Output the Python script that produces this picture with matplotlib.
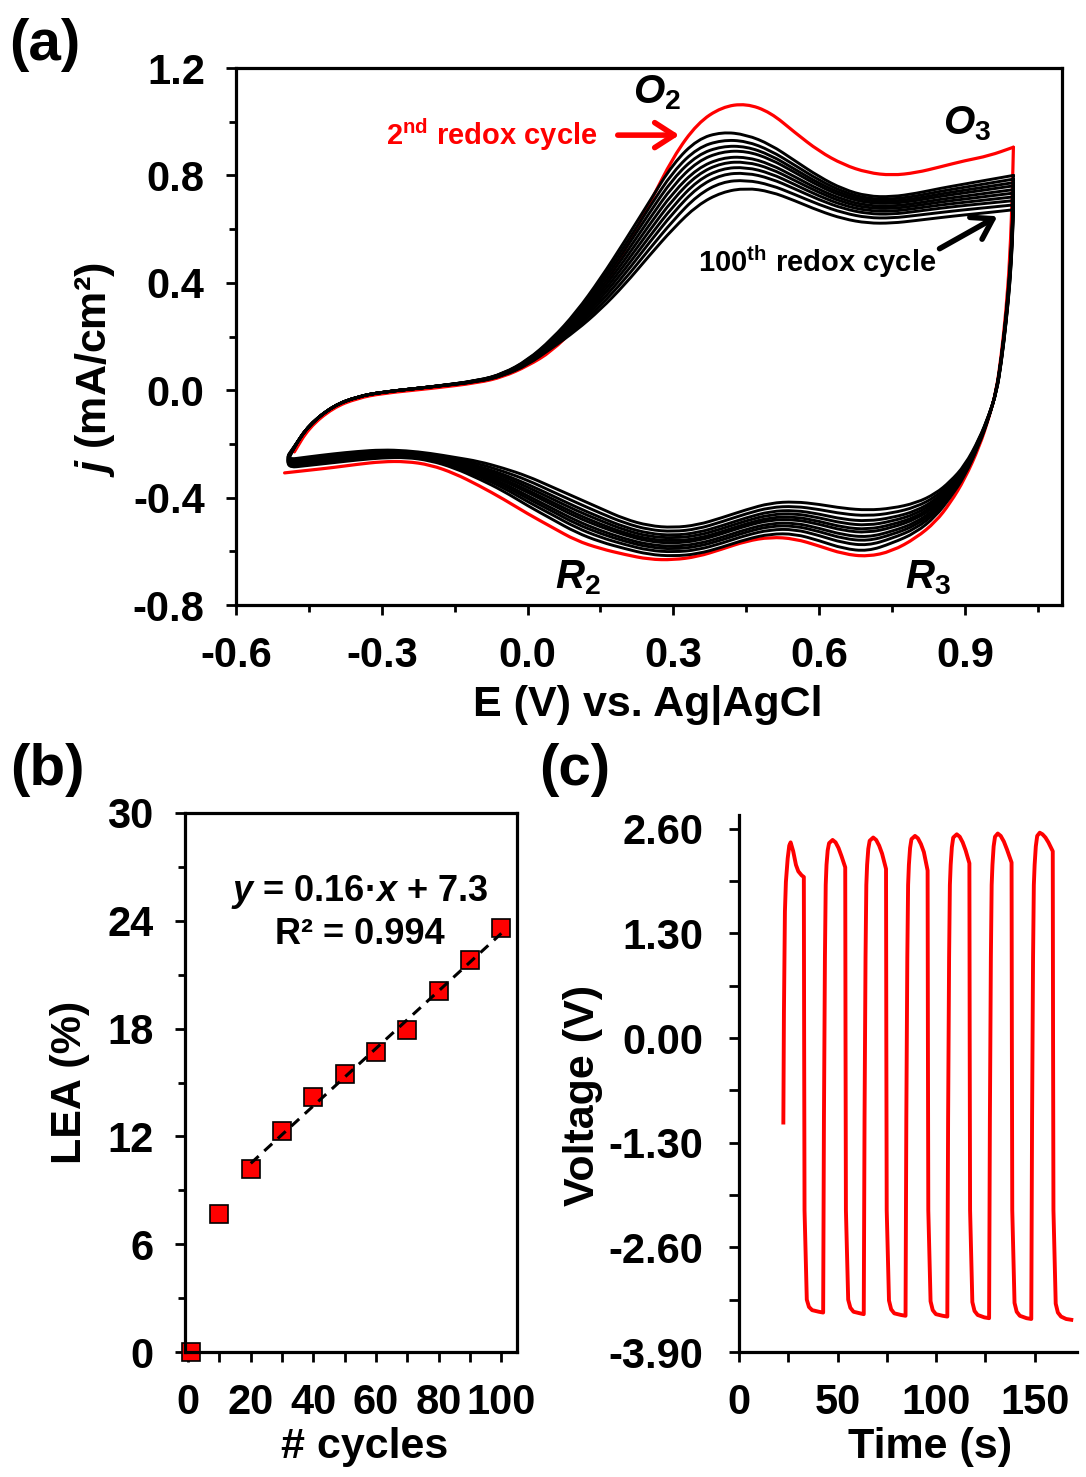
import numpy as np
import matplotlib
matplotlib.use("Agg")
import matplotlib.pyplot as plt
from matplotlib.path import Path
from matplotlib.patches import PathPatch
from matplotlib.ticker import MultipleLocator

plt.rcParams['font.family'] = ['Liberation Sans', 'DejaVu Sans']
plt.rcParams['font.weight'] = 'bold'
plt.rcParams['mathtext.fontset'] = 'custom'
plt.rcParams['mathtext.rm'] = 'Liberation Sans:bold'
plt.rcParams['mathtext.it'] = 'Liberation Sans:italic:bold'
plt.rcParams['mathtext.bf'] = 'Liberation Sans:bold'

###############################################################################
# (a) cyclic voltammograms, 2nd cycle (red) and every 10th cycle (black)

# anodic sweep potentials (V vs Ag|AgCl)
E_ox = [-0.48, -0.45, -0.40, -0.35, -0.30, -0.20, -0.10, -0.05, 0.00, 0.05,
        0.10, 0.15, 0.20, 0.25, 0.30, 0.35, 0.40, 0.45, 0.50, 0.55,
        0.60, 0.65, 0.70, 0.75, 0.80, 0.85, 0.90, 0.95, 1.00]
# cathodic sweep potentials
E_rd = [1.00, 0.998, 0.993, 0.985, 0.975, 0.965, 0.95, 0.93, 0.90, 0.87,
        0.84, 0.80, 0.75, 0.70, 0.65, 0.60, 0.55, 0.50, 0.45, 0.40,
        0.35, 0.30, 0.25, 0.20, 0.15, 0.10, 0.05, 0.00, -0.05, -0.10,
        -0.15, -0.20, -0.25, -0.30, -0.35, -0.40, -0.45, -0.50]

# 2nd cycle current density (mA/cm2)
j_ox_2nd = [-0.23, -0.14, -0.065, -0.03, -0.012, 0.006, 0.028, 0.05, 0.09, 0.145,
            0.235, 0.36, 0.52, 0.69, 0.87, 0.995, 1.055, 1.068, 1.035, 0.96,
            0.89, 0.84, 0.81, 0.80, 0.81, 0.832, 0.855, 0.873, 0.905]
j_rd_2nd = [0.905, 0.75, 0.50, 0.30, 0.13, 0.0, -0.10, -0.21, -0.33, -0.42,
            -0.49, -0.55, -0.60, -0.62, -0.61, -0.58, -0.553, -0.547, -0.562, -0.592,
            -0.62, -0.632, -0.63, -0.612, -0.59, -0.56, -0.51, -0.46, -0.405, -0.355,
            -0.31, -0.278, -0.265, -0.266, -0.276, -0.288, -0.298, -0.308]

cycles_cv = [10, 20, 30, 40, 50, 60, 70, 80, 90, 100]

# one row per potential of E_ox, one column per entry of cycles_cv
j_ox_cycles = [
    [-0.21] * 10,
    [-0.13] * 10,
    [-0.058] * 10,
    [-0.024] * 10,
    [-0.007] * 10,
    [0.012] * 10,
    [0.036, 0.036, 0.035, 0.035, 0.034, 0.034, 0.033, 0.033, 0.032, 0.032],
    [0.062, 0.061, 0.060, 0.060, 0.059, 0.058, 0.057, 0.056, 0.055, 0.054],
    [0.112, 0.110, 0.108, 0.106, 0.104, 0.102, 0.100, 0.098, 0.096, 0.094],
    [0.190, 0.186, 0.182, 0.179, 0.175, 0.172, 0.168, 0.165, 0.161, 0.157],
    [0.290, 0.282, 0.274, 0.267, 0.260, 0.252, 0.245, 0.238, 0.230, 0.222],
    [0.415, 0.402, 0.390, 0.377, 0.364, 0.352, 0.340, 0.327, 0.314, 0.300],
    [0.555, 0.538, 0.521, 0.503, 0.485, 0.467, 0.449, 0.431, 0.412, 0.393],
    [0.700, 0.679, 0.658, 0.636, 0.614, 0.592, 0.570, 0.548, 0.524, 0.500],
    [0.845, 0.816, 0.790, 0.764, 0.738, 0.713, 0.687, 0.662, 0.633, 0.603],
    [0.935, 0.903, 0.877, 0.853, 0.827, 0.805, 0.782, 0.757, 0.727, 0.690],
    [0.962, 0.932, 0.909, 0.889, 0.866, 0.847, 0.826, 0.804, 0.776, 0.738],
    [0.952, 0.928, 0.908, 0.891, 0.869, 0.851, 0.831, 0.810, 0.783, 0.753],
    [0.915, 0.893, 0.876, 0.861, 0.842, 0.826, 0.808, 0.789, 0.765, 0.740],
    [0.855, 0.838, 0.823, 0.811, 0.795, 0.781, 0.766, 0.750, 0.729, 0.706],
    [0.795, 0.782, 0.770, 0.760, 0.747, 0.736, 0.723, 0.709, 0.691, 0.668],
    [0.748, 0.738, 0.729, 0.720, 0.709, 0.699, 0.688, 0.676, 0.660, 0.638],
    [0.722, 0.713, 0.705, 0.697, 0.687, 0.678, 0.668, 0.657, 0.642, 0.622],
    [0.720, 0.711, 0.703, 0.695, 0.685, 0.676, 0.666, 0.655, 0.641, 0.622],
    [0.733, 0.723, 0.714, 0.706, 0.696, 0.687, 0.677, 0.666, 0.651, 0.632],
    [0.752, 0.741, 0.731, 0.722, 0.711, 0.701, 0.690, 0.678, 0.662, 0.643],
    [0.768, 0.756, 0.745, 0.735, 0.723, 0.712, 0.700, 0.688, 0.672, 0.653],
    [0.784, 0.771, 0.759, 0.748, 0.735, 0.723, 0.710, 0.697, 0.681, 0.662],
    [0.800, 0.786, 0.773, 0.761, 0.747, 0.734, 0.720, 0.706, 0.690, 0.672],
]

# one row per potential of E_rd
j_rd_cycles = [
    [0.800, 0.786, 0.773, 0.761, 0.747, 0.734, 0.720, 0.706, 0.690, 0.672],
    [0.620, 0.610, 0.600, 0.595, 0.590, 0.585, 0.580, 0.570, 0.560, 0.550],
    [0.450, 0.445, 0.440, 0.435, 0.430, 0.425, 0.420, 0.415, 0.405, 0.400],
    [0.280, 0.276, 0.273, 0.270, 0.267, 0.264, 0.260, 0.257, 0.253, 0.250],
    [0.120, 0.117, 0.115, 0.113, 0.110, 0.109, 0.107, 0.105, 0.102, 0.100],
    [0.000, -0.001, -0.003, -0.003, -0.005, -0.005, -0.006, -0.007, -0.009, -0.010],
    [-0.100, -0.099, -0.098, -0.097, -0.096, -0.095, -0.094, -0.093, -0.091, -0.090],
    [-0.200, -0.197, -0.195, -0.193, -0.191, -0.189, -0.187, -0.185, -0.183, -0.180],
    [-0.320, -0.314, -0.310, -0.306, -0.302, -0.299, -0.295, -0.291, -0.286, -0.280],
    [-0.400, -0.392, -0.385, -0.380, -0.373, -0.368, -0.362, -0.356, -0.348, -0.340],
    [-0.470, -0.458, -0.449, -0.441, -0.432, -0.425, -0.416, -0.408, -0.397, -0.385],
    [-0.530, -0.515, -0.503, -0.493, -0.480, -0.472, -0.461, -0.450, -0.435, -0.420],
    [-0.570, -0.552, -0.538, -0.526, -0.512, -0.501, -0.488, -0.475, -0.458, -0.440],
    [-0.600, -0.579, -0.562, -0.548, -0.531, -0.519, -0.504, -0.488, -0.468, -0.447],
    [-0.590, -0.569, -0.553, -0.539, -0.523, -0.511, -0.496, -0.481, -0.461, -0.440],
    [-0.560, -0.541, -0.526, -0.514, -0.499, -0.488, -0.475, -0.461, -0.444, -0.425],
    [-0.535, -0.518, -0.505, -0.494, -0.481, -0.471, -0.459, -0.447, -0.432, -0.415],
    [-0.535, -0.519, -0.506, -0.496, -0.483, -0.474, -0.463, -0.451, -0.436, -0.420],
    [-0.555, -0.540, -0.528, -0.518, -0.505, -0.497, -0.486, -0.475, -0.460, -0.445],
    [-0.585, -0.570, -0.558, -0.548, -0.535, -0.527, -0.516, -0.505, -0.490, -0.475],
    [-0.610, -0.595, -0.583, -0.573, -0.561, -0.553, -0.542, -0.531, -0.517, -0.502],
    [-0.618, -0.603, -0.592, -0.582, -0.570, -0.562, -0.551, -0.541, -0.527, -0.512],
    [-0.612, -0.597, -0.585, -0.576, -0.564, -0.555, -0.545, -0.534, -0.520, -0.505],
    [-0.590, -0.575, -0.563, -0.553, -0.540, -0.532, -0.521, -0.510, -0.495, -0.480],
    [-0.565, -0.548, -0.534, -0.523, -0.509, -0.499, -0.486, -0.474, -0.458, -0.440],
    [-0.530, -0.512, -0.498, -0.486, -0.472, -0.461, -0.448, -0.435, -0.418, -0.400],
    [-0.480, -0.463, -0.450, -0.439, -0.426, -0.416, -0.404, -0.392, -0.377, -0.360],
    [-0.430, -0.415, -0.403, -0.393, -0.380, -0.372, -0.361, -0.350, -0.335, -0.320],
    [-0.375, -0.363, -0.354, -0.346, -0.337, -0.330, -0.321, -0.313, -0.302, -0.290],
    [-0.330, -0.321, -0.314, -0.308, -0.301, -0.296, -0.289, -0.283, -0.274, -0.265],
    [-0.290, -0.284, -0.280, -0.276, -0.272, -0.269, -0.265, -0.261, -0.256, -0.250],
    [-0.262, -0.258, -0.255, -0.253, -0.250, -0.248, -0.245, -0.242, -0.239, -0.235],
    [-0.250, -0.246, -0.244, -0.242, -0.239, -0.237, -0.234, -0.232, -0.228, -0.225],
    [-0.252, -0.248, -0.245, -0.242, -0.239, -0.236, -0.233, -0.230, -0.226, -0.222],
    [-0.260, -0.256, -0.252, -0.249, -0.246, -0.243, -0.240, -0.237, -0.232, -0.228],
    [-0.270, -0.265, -0.262, -0.259, -0.255, -0.252, -0.249, -0.246, -0.241, -0.237],
    [-0.280, -0.276, -0.272, -0.269, -0.266, -0.263, -0.260, -0.257, -0.252, -0.248],
    [-0.290, -0.286, -0.283, -0.280, -0.277, -0.275, -0.271, -0.268, -0.264, -0.260],
]

###############################################################################
# (b) LEA vs number of redox cycles

n_cycles = [1, 10, 20, 30, 40, 50, 60, 70, 80, 90, 100]
lea = [0.0, 7.7, 10.2, 12.3, 14.2, 15.5, 16.7, 17.9, 20.1, 21.8, 23.6]
fit_slope, fit_icpt, fit_r2 = 0.16, 7.3, 0.994
fit_range = [20, 100]

###############################################################################
# (c) voltage response in time, one row per pulse

time_s = [
    [22.5, 22.8, 23.3, 23.8, 24.7, 25.5, 26.2, 27.5, 28.9, 30.1, 31.8, 32.9,
     33.05, 33.25, 34.4, 35.5, 37.1, 40.5],
    [42.7, 43.1, 43.6, 44.0, 44.4, 45.0, 45.7, 47.5, 49.0, 50.5, 52.0, 53.9,
     54.05, 54.25, 55.4, 56.5, 58.1, 61.5],
    [63.3, 63.7, 64.2, 64.6, 65.0, 65.6, 66.3, 68.1, 69.6, 71.1, 72.6, 74.6,
     74.75, 74.95, 76.1, 77.2, 78.8, 82.2],
    [84.5, 84.9, 85.4, 85.8, 86.2, 86.8, 87.5, 89.3, 90.8, 92.3, 93.8, 95.7,
     95.85, 96.05, 97.2, 98.3, 99.9, 103.3],
    [105.7, 106.1, 106.6, 107.0, 107.4, 108.0, 108.7, 110.5, 112.0, 113.5, 115.0, 116.9,
     117.05, 117.25, 118.4, 119.5, 121.1, 124.5],
    [126.9, 127.3, 127.8, 128.2, 128.6, 129.2, 129.9, 131.3, 132.8, 134.4, 136.0, 138.3,
     138.45, 138.65, 139.8, 140.9, 142.5, 145.9],
    [148.3, 148.7, 149.2, 149.6, 150.0, 150.6, 151.3, 152.6, 154.0, 155.5, 157.0, 159.2,
     159.35, 159.55, 160.7, 161.8, 163.4, 166.0, 168.6],
]
volt = [
    [-1.05, 0.32, 1.57, 1.94, 2.23, 2.39, 2.43, 2.32, 2.15, 2.07, 2.02, 2.00,
     0.0, -2.14, -3.25, -3.34, -3.38, -3.40],
    [-3.41, -1.0, 1.0, 1.9, 2.15, 2.33, 2.42, 2.46, 2.43, 2.36, 2.26, 2.12,
     0.0, -2.14, -3.25, -3.35, -3.40, -3.42],
    [-3.43, -1.0, 1.0, 1.9, 2.15, 2.35, 2.45, 2.49, 2.46, 2.39, 2.29, 2.10,
     0.0, -2.14, -3.26, -3.37, -3.42, -3.44],
    [-3.45, -1.0, 1.0, 1.9, 2.15, 2.36, 2.47, 2.51, 2.48, 2.41, 2.31, 2.08,
     0.0, -2.14, -3.27, -3.38, -3.43, -3.45],
    [-3.46, -1.0, 1.0, 1.9, 2.15, 2.37, 2.49, 2.53, 2.50, 2.43, 2.33, 2.17,
     0.0, -2.14, -3.28, -3.39, -3.44, -3.47],
    [-3.48, -1.0, 1.0, 1.9, 2.15, 2.38, 2.50, 2.54, 2.51, 2.44, 2.34, 2.18,
     0.0, -2.14, -3.29, -3.40, -3.45, -3.48],
    [-3.49, -1.0, 1.0, 1.9, 2.15, 2.38, 2.51, 2.55, 2.53, 2.49, 2.43, 2.32,
     0.0, -2.14, -3.30, -3.41, -3.46, -3.49, -3.50],
]

###############################################################################
# Plot

TICK_FS = 30
LABEL_FS = 31


def smooth_curve(x, y):
    """Quadratic Bezier path through the midpoints, data points as control points."""
    pts = np.column_stack([x, y])
    mids = (pts[:-1] + pts[1:]) / 2
    verts = [pts[0], mids[0]]
    codes = [Path.MOVETO, Path.LINETO]
    for i in range(1, len(pts) - 1):
        verts += [pts[i], mids[i]]
        codes += [Path.CURVE3, Path.CURVE3]
    verts.append(pts[-1])
    codes.append(Path.LINETO)
    return Path(verts, codes)


def style_axis(ax):
    for sp in ax.spines.values():
        sp.set_linewidth(2.3)
    ax.tick_params(which='both', direction='out', width=2.0, labelsize=TICK_FS,
                   pad=15, top=False, right=False)
    ax.tick_params(which='major', length=7.5)
    ax.tick_params(which='minor', length=5)
    for lab in ax.get_xticklabels() + ax.get_yticklabels():
        lab.set_fontweight('bold')


fig = plt.figure(figsize=(10.86, 14.77), dpi=100)

# ---- (a)
ax1 = fig.add_axes([236 / 1086, 1 - 605 / 1477, 826 / 1086, 537 / 1477])
ox = np.array(j_ox_cycles).T
rd = np.array(j_rd_cycles).T
for xs, ys in [(E_ox, j_ox_2nd), (E_rd, j_rd_2nd)]:
    ax1.add_patch(PathPatch(smooth_curve(xs, ys), fill=False, edgecolor='red',
                            lw=2.3, zorder=2, capstyle='round'))
for k in range(len(cycles_cv)):
    ax1.add_patch(PathPatch(smooth_curve(E_rd + E_ox, list(rd[k]) + list(ox[k])),
                            fill=False, edgecolor='black', lw=2.1, zorder=3,
                            capstyle='round'))

ax1.set_xlim(-0.6, 1.1)
ax1.set_ylim(-0.8, 1.2)
ax1.xaxis.set_major_locator(MultipleLocator(0.3))
ax1.xaxis.set_minor_locator(MultipleLocator(0.15))
ax1.yaxis.set_major_locator(MultipleLocator(0.4))
ax1.yaxis.set_minor_locator(MultipleLocator(0.2))
ax1.xaxis.set_major_formatter(lambda v, p: f'{v:.1f}')
ax1.yaxis.set_major_formatter(lambda v, p: f'{v:.1f}')
style_axis(ax1)

ax1.text(0.266, 1.107, r'$O_{\mathit{2}}$', fontsize=29, ha='center', va='center')
ax1.text(0.904, 0.991, r'$O_{\mathit{3}}$', fontsize=29, ha='center', va='center')
ax1.text(0.104, -0.70, r'$R_{\mathit{2}}$', fontsize=29, ha='center', va='center')
ax1.text(0.824, -0.70, r'$R_{\mathit{3}}$', fontsize=29, ha='center', va='center')

ax1.text(0.145, 0.95, r'2$^{\mathrm{nd}}$ redox cycle', color='red', fontsize=21,
         ha='right', va='center')
ax1.annotate('', xy=(0.318, 0.95), xytext=(0.18, 0.95),
             arrowprops=dict(arrowstyle='->,head_length=0.7,head_width=0.45',
                             color='red', lw=4, mutation_scale=20))
ax1.text(0.596, 0.478, r'100$^{\mathrm{th}}$ redox cycle', color='black', fontsize=21,
         ha='center', va='center')
ax1.annotate('', xy=(0.972, 0.653), xytext=(0.843, 0.522),
             arrowprops=dict(arrowstyle='->,head_length=0.7,head_width=0.45',
                             color='black', lw=4, mutation_scale=20))

fig.text(648 / 1086, 1 - 705 / 1477, 'E (V) vs. Ag|AgCl', fontsize=LABEL_FS,
         ha='center', va='center')
fig.text(95 / 1086, 1 - 370 / 1477, r'$j$ (mA/cm²)', fontsize=LABEL_FS,
         ha='center', va='center', rotation=90)
fig.text(45 / 1086, 1 - 45 / 1477, '(a)', fontsize=42, ha='center', va='center')

# ---- (b)
ax2 = fig.add_axes([185 / 1086, 1 - 1352 / 1477, 332 / 1086, 539 / 1477])
fx = np.array(fit_range)
ax2.plot(fx, fit_slope * fx + fit_icpt, color='black', lw=2.2, ls=(0, (3.5, 2.5)), zorder=3)
ax2.plot(n_cycles, lea, ls='none', marker='s', markersize=13, markerfacecolor='red',
         markeredgecolor='black', markeredgewidth=1.2, zorder=2, clip_on=False)
ax2.set_xlim(-1, 105)
ax2.set_ylim(0, 30)
ax2.xaxis.set_major_locator(MultipleLocator(20))
ax2.xaxis.set_minor_locator(MultipleLocator(10))
ax2.yaxis.set_major_locator(MultipleLocator(6))
ax2.yaxis.set_minor_locator(MultipleLocator(3))
style_axis(ax2)
ax2.tick_params(axis='x', which='minor', length=7.5)
ax2.text(0.527, 0.853, r'$y$ = 0.16·$x$ + 7.3', transform=ax2.transAxes,
         fontsize=26, ha='center', va='center')
ax2.text(0.527, 0.774, f'R² = {fit_r2}', transform=ax2.transAxes,
         fontsize=26, ha='center', va='center')

fig.text(365 / 1086, 1 - 1447 / 1477, '# cycles', fontsize=LABEL_FS, ha='center', va='center')
fig.text(70 / 1086, 1 - 1082 / 1477, 'LEA (%)', fontsize=LABEL_FS, ha='center',
         va='center', rotation=90)
fig.text(47 / 1086, 1 - 770 / 1477, '(b)', fontsize=42, ha='center', va='center')

# ---- (c)
ax3 = fig.add_axes([739 / 1086, 1 - 1352 / 1477, 338 / 1086, 537 / 1477])
ax3.plot(sum(time_s, []), sum(volt, []), color='red', lw=2.8, solid_joinstyle='round')
ax3.set_xlim(0, 171.5)
ax3.set_ylim(-3.9, 2.77)
ax3.set_xticks([0, 50, 100, 150])
ax3.xaxis.set_minor_locator(MultipleLocator(25))
ax3.set_yticks([2.6, 1.3, 0.0, -1.3, -2.6, -3.9])
ax3.yaxis.set_minor_locator(MultipleLocator(0.65))
ax3.yaxis.set_major_formatter(lambda v, p: f'{v:.2f}')
ax3.spines['top'].set_visible(False)
ax3.spines['right'].set_visible(False)
style_axis(ax3)
ax3.tick_params(which='minor', length=7.5)
ax3.tick_params(axis='y', pad=18)

fig.text(930 / 1086, 1 - 1447 / 1477, 'Time (s)', fontsize=LABEL_FS, ha='center', va='center')
fig.text(583 / 1086, 1 - 1095 / 1477, 'Voltage (V)', fontsize=LABEL_FS, ha='center',
         va='center', rotation=90)
fig.text(575 / 1086, 1 - 770 / 1477, '(c)', fontsize=42, ha='center', va='center')

fig.savefig('out.png', dpi=100)
